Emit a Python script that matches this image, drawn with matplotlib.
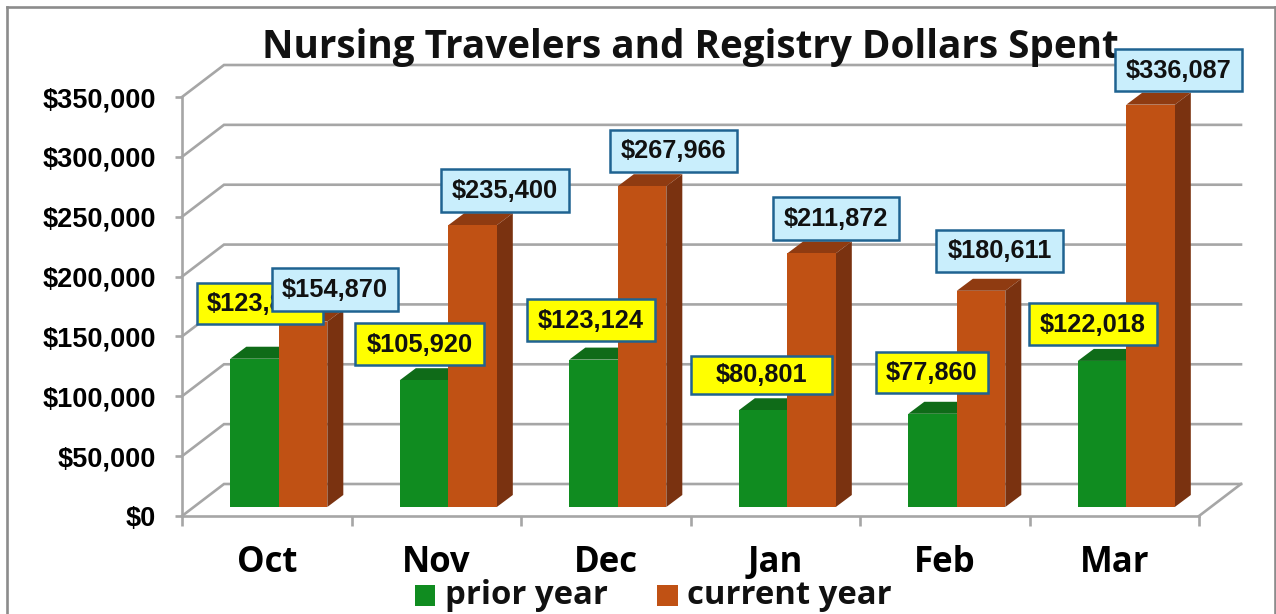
"""Nursing travelers and registry spend, drawn as a fake 3D column chart."""

import matplotlib
matplotlib.use('Agg')
import matplotlib.pyplot as plt
from matplotlib.patches import Polygon, Rectangle

# Data
months = ['Oct', 'Nov', 'Dec', 'Jan', 'Feb', 'Mar']
prior_year = [123860, 105920, 123124, 80801, 77860, 122018]
current_year = [154870, 235400, 267966, 211872, 180611, 336087]
y_ticks = [0, 50000, 100000, 150000, 200000, 250000, 300000, 350000]

# Label boxes in image pixels: left, top, right, bottom
prior_boxes = [(197, 283, 323, 324), (355, 323, 484, 365), (527, 299, 655, 341),
               (691, 356, 832, 394), (876, 352, 988, 393), (1029, 303, 1157, 345)]
current_boxes = [(272, 268, 398, 311), (441, 169, 569, 212), (610, 130, 737, 172),
                 (773, 197, 899, 240), (936, 230, 1063, 272), (1115, 49, 1242, 91)]

WIDTH, HEIGHT = 1276, 614
LEFT, RIGHT, TOP, BOTTOM = 182, 1199, 97, 516

GRID = '#a6a6a6'
GREEN = ('#108c20', '#0f6b18')
ORANGE = ('#c05114', '#8f3b11', '#7a3210')
BLUE_BOX = '#c9eefc'
YELLOW_BOX = '#ffff00'
BOX_EDGE = '#1f6391'

UI_FONT = 'Open Sans'
LABEL_FONT = 'Liberation Sans'

# Data units per image pixel
px_x = len(months) / (RIGHT - LEFT)
px_y = y_ticks[-1] / (BOTTOM - TOP)

wall_dx, wall_dy = 42 * px_x, 32 * px_y
bar_dx, bar_dy = 16 * px_x, 12 * px_y
bar_base = 9 * px_y
bar_width = 48.5 * px_x
bar_start = 0.285


def draw_grid(ax):
    """Draw the back wall, left wall and floor lines."""
    for tick in y_ticks:
        y = tick + wall_dy
        ax.plot([0, wall_dx, len(months) + wall_dx], [tick, y, y], color=GRID, lw=1.9,
                clip_on=False, zorder=1, solid_joinstyle='miter')
    ax.plot([len(months), len(months) + wall_dx], [0, wall_dy], color=GRID, lw=1.9,
            clip_on=False, zorder=1)


def draw_column(ax, x, value, colors, zorder):
    """Draw the front, top and side faces of a column."""
    front, top = colors[0], colors[1]
    y = bar_base + value
    ax.bar(x, value, width=bar_width, bottom=bar_base, align='edge', color=front,
           zorder=zorder + 0.2, clip_on=False)
    ax.add_patch(Polygon([(x, y), (x + bar_width, y),
                          (x + bar_width + bar_dx, y + bar_dy), (x + bar_dx, y + bar_dy)],
                         closed=True, facecolor=top, edgecolor='none',
                         zorder=zorder + 0.1, clip_on=False))
    if len(colors) > 2:
        x2 = x + bar_width
        ax.add_patch(Polygon([(x2, bar_base), (x2 + bar_dx, bar_base + bar_dy),
                              (x2 + bar_dx, y + bar_dy), (x2, y)],
                             closed=True, facecolor=colors[2], edgecolor='none',
                             zorder=zorder + 0.1, clip_on=False))


def draw_label_box(overlay, box, text, facecolor, zorder):
    """Draw one data label with its outlined box."""
    left, top, right, bottom = box
    overlay.add_patch(Rectangle((left, top), right - left, bottom - top,
                                facecolor=facecolor, edgecolor=BOX_EDGE, lw=1.8, zorder=zorder))
    overlay.text((left + right) / 2, (top + bottom) / 2 + 0.5, text, ha='center', va='center',
                 family=LABEL_FONT, fontweight='bold', fontsize=18.3, color='#111111',
                 zorder=zorder + 0.5)


fig = plt.figure(figsize=(WIDTH / 100, HEIGHT / 100), dpi=100, facecolor='white')
ax = fig.add_axes([LEFT / WIDTH, 1 - BOTTOM / HEIGHT,
                   (RIGHT - LEFT) / WIDTH, (BOTTOM - TOP) / HEIGHT])
ax.patch.set_visible(False)
ax.set_xlim(0, len(months))
ax.set_ylim(0, y_ticks[-1])

for side in ('top', 'right'):
    ax.spines[side].set_visible(False)
for side in ('left', 'bottom'):
    ax.spines[side].set_color(GRID)
    ax.spines[side].set_linewidth(1.9)

ax.set_yticks(y_ticks)
ax.set_yticklabels(['${:,}'.format(t) for t in y_ticks], family=LABEL_FONT,
                   fontweight='bold', fontsize=19.5)
ax.tick_params(axis='y', length=5, width=1.9, color=GRID, pad=14)

ax.set_xticks(range(len(months) + 1))
ax.set_xticklabels([])
ax.set_xticks([i + 0.5 for i in range(len(months))], minor=True)
ax.set_xticklabels(months, minor=True, family=UI_FONT, fontweight='bold', fontsize=25)
ax.tick_params(axis='x', which='major', length=7, width=1.9, color=GRID)
ax.tick_params(axis='x', which='minor', length=0, pad=21)

draw_grid(ax)

for i in range(len(months)):
    x = i + bar_start
    draw_column(ax, x, prior_year[i], GREEN, 2)
    draw_column(ax, x + bar_width, current_year[i], ORANGE, 3)

# Overlay in image pixels for the title, labels, legend and frame
overlay = fig.add_axes([0, 0, 1, 1], zorder=10)
overlay.set_xlim(0, WIDTH)
overlay.set_ylim(HEIGHT, 0)
overlay.axis('off')

overlay.plot([7, 7], [HEIGHT, 7], color='#8c8c8c', lw=1.9, zorder=1)
overlay.plot([7, 1275], [7, 7], color='#8c8c8c', lw=1.9, zorder=1)
overlay.plot([1275, 1275], [7, HEIGHT], color='#8c8c8c', lw=1.9, zorder=1)

overlay.text(690, 58, 'Nursing Travelers and Registry Dollars Spent', ha='center', va='baseline',
             family=UI_FONT, fontweight='bold', fontsize=27.8, color='#111111', zorder=2)

for i in range(len(months)):
    draw_label_box(overlay, prior_boxes[i], '${:,}'.format(prior_year[i]), YELLOW_BOX, 5)
for i in range(len(months)):
    draw_label_box(overlay, current_boxes[i], '${:,}'.format(current_year[i]), BLUE_BOX, 7)

overlay.add_patch(Rectangle((415, 585), 20, 21, facecolor=GREEN[0], edgecolor='none'))
overlay.add_patch(Rectangle((657, 585), 21, 21, facecolor=ORANGE[0], edgecolor='none'))
overlay.text(445, 604, 'prior year', ha='left', va='baseline', family=UI_FONT,
             fontweight='bold', fontsize=23.7, color='#111111')
overlay.text(687, 604, 'current year', ha='left', va='baseline', family=UI_FONT,
             fontweight='bold', fontsize=23.7, color='#111111')

fig.savefig('out.png', dpi=100)
